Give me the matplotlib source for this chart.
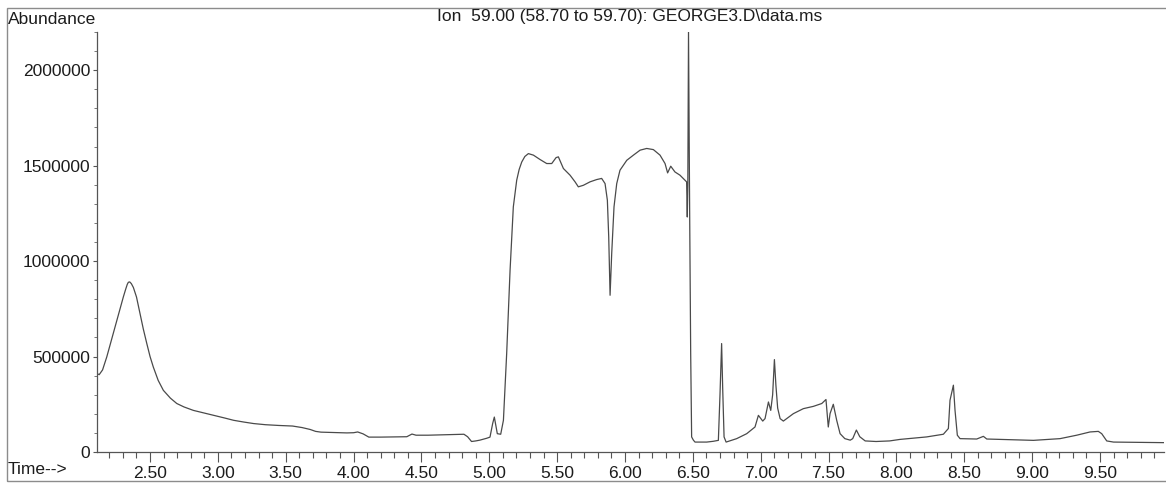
import matplotlib
matplotlib.use("Agg")
import matplotlib.pyplot as plt
from matplotlib.patches import Rectangle
from matplotlib.ticker import MultipleLocator

plt.rcParams['font.family'] = ['Liberation Sans', 'DejaVu Sans']

# Extracted ion chromatogram, m/z 59
retention_time = [
    2.109, 2.125, 2.150, 2.181, 2.242, 2.303, 2.320, 2.332, 2.340, 2.350,
    2.362, 2.377, 2.400, 2.426, 2.450, 2.476, 2.500, 2.524, 2.560, 2.598,
    2.650, 2.697, 2.750, 2.819, 2.900, 2.967, 3.050, 3.116, 3.190, 3.263,
    3.350, 3.450, 3.550, 3.620, 3.680, 3.720, 3.760, 3.850, 3.950, 4.000,
    4.030, 4.070, 4.112, 4.200, 4.300, 4.392, 4.430, 4.460, 4.550, 4.650,
    4.750, 4.813, 4.840, 4.869, 4.900, 4.930, 4.981, 5.005, 5.025, 5.037,
    5.048, 5.059, 5.084, 5.104, 5.128, 5.153, 5.177, 5.202, 5.220, 5.239,
    5.262, 5.288, 5.325, 5.374, 5.423, 5.460, 5.492, 5.509, 5.546, 5.595,
    5.632, 5.656, 5.693, 5.742, 5.791, 5.828, 5.853, 5.870, 5.880, 5.890,
    5.902, 5.919, 5.939, 5.963, 6.013, 6.062, 6.111, 6.160, 6.209, 6.258,
    6.295, 6.314, 6.337, 6.368, 6.405, 6.442, 6.454, 6.459, 6.463, 6.468,
    6.476, 6.484, 6.491, 6.504, 6.516, 6.602, 6.650, 6.688, 6.700, 6.712,
    6.720, 6.730, 6.745, 6.823, 6.897, 6.958, 6.983, 7.015, 7.032, 7.057,
    7.074, 7.088, 7.101, 7.112, 7.125, 7.143, 7.167, 7.241, 7.314, 7.388,
    7.450, 7.481, 7.498, 7.511, 7.535, 7.560, 7.585, 7.620, 7.660, 7.678,
    7.705, 7.730, 7.770, 7.850, 7.950, 8.027, 8.120, 8.223, 8.346, 8.383,
    8.395, 8.420, 8.432, 8.449, 8.469, 8.592, 8.641, 8.666, 8.813, 9.010,
    9.206, 9.329, 9.427, 9.488, 9.513, 9.550, 9.600, 9.970,
]

abundance = [
    411000, 405000, 430000, 498000, 655000, 812000, 852000, 878000, 889000, 891000,
    882000, 862000, 812000, 725000, 645000, 568000, 500000, 445000, 375000, 323000,
    282000, 254000, 236000, 218000, 204000, 192000, 178000, 166000, 157000, 149000,
    143000, 139000, 136000, 128000, 118000, 108000, 104000, 102000, 100000, 101000,
    105000, 95000, 78000, 78000, 79000, 80000, 94000, 88000, 88000, 90000,
    92000, 93000, 80000, 55000, 58000, 62000, 72000, 78000, 150000, 183000,
    140000, 96000, 93000, 166000, 516000, 952000, 1284000, 1424000, 1480000, 1519000,
    1548000, 1563000, 1555000, 1532000, 1511000, 1511000, 1542000, 1546000, 1485000, 1450000,
    1415000, 1389000, 1397000, 1415000, 1427000, 1433000, 1406000, 1319000, 1127000, 821000,
    1040000, 1284000, 1406000, 1476000, 1528000, 1555000, 1581000, 1590000, 1584000, 1555000,
    1511000, 1462000, 1497000, 1467000, 1450000, 1424000, 1415000, 1231000, 1410000, 2200000,
    1300000, 517000, 79000, 62000, 52000, 52000, 56000, 61000, 300000, 568000,
    330000, 79000, 52000, 70000, 96000, 131000, 192000, 162000, 175000, 262000,
    218000, 300000, 484000, 350000, 230000, 175000, 162000, 201000, 227000, 239000,
    254000, 275000, 131000, 201000, 250000, 166000, 96000, 70000, 62000, 70000,
    115000, 80000, 58000, 55000, 58000, 66000, 72000, 79000, 93000, 123000,
    271000, 350000, 218000, 88000, 70000, 68000, 82000, 68000, 65000, 61000,
    70000, 88000, 105000, 108000, 96000, 58000, 52000, 49000,
]

x_ticks = [2.5, 3.0, 3.5, 4.0, 4.5, 5.0, 5.5, 6.0, 6.5, 7.0, 7.5, 8.0, 8.5, 9.0, 9.5]
x_tick_labels = ["2.50", "3.00", "3.50", "4.00", "4.50", "5.00", "5.50", "6.00",
                 "6.50", "7.00", "7.50", "8.00", "8.50", "9.00", "9.50"]
y_ticks = [0, 500000, 1000000, 1500000, 2000000]
y_tick_labels = ["0", "500000", "1000000", "1500000", "2000000"]

title_text = "Ion  59.00 (58.70 to 59.70): GEORGE3.D\\data.ms"

W, H = 1166, 483
fig = plt.figure(figsize=(W / 100, H / 100), dpi=100)
fig.patch.set_facecolor("white")

ax_left, ax_right = 97, 1164
ax_bottom, ax_top = 452, 32
ax = fig.add_axes([ax_left / W, 1 - ax_bottom / H,
                   (ax_right - ax_left) / W, (ax_bottom - ax_top) / H])

line_color = "#4a4a4a"
text_color = "#1c1c1c"

ax.plot(retention_time, abundance, color=line_color, lw=0.9, solid_joinstyle="round")

ax.set_xlim(2.109, 9.972)
ax.set_ylim(0, 2200000)

for side in ("top", "right"):
    ax.spines[side].set_visible(False)
for side in ("left", "bottom"):
    ax.spines[side].set_color("#555555")
    ax.spines[side].set_linewidth(0.9)

ax.set_xticks(x_ticks)
ax.set_xticklabels(x_tick_labels)
ax.set_yticks(y_ticks)
ax.set_yticklabels(y_tick_labels)
ax.xaxis.set_minor_locator(MultipleLocator(0.1))
ax.yaxis.set_minor_locator(MultipleLocator(100000))

ax.tick_params(axis="x", which="major", direction="out", length=7, width=0.8,
               color="#555555", labelsize=12.5, labelcolor=text_color, pad=3)
ax.tick_params(axis="x", which="minor", direction="out", length=4, width=0.8,
               color="#555555")
ax.tick_params(axis="y", which="major", direction="out", length=3, width=0.8,
               color="#555555", labelsize=12.5, labelcolor=text_color, pad=2)
ax.tick_params(axis="y", which="minor", direction="out", length=2, width=0.7,
               color="#777777")

fig.text(630 / W, 1 - 17 / H, title_text, ha="center", va="center",
         fontsize=12.5, color=text_color)
fig.text(8 / W, 1 - 19 / H, "Abundance", ha="left", va="center",
         fontsize=12.5, color=text_color)
fig.text(8 / W, 1 - 470 / H, "Time-->", ha="left", va="center",
         fontsize=12.5, color=text_color)

# page frame surrounding the plot
fig.add_artist(Rectangle((7 / W, 1 - 481 / H), (W + 20) / W, (481 - 8) / H,
                         transform=fig.transFigure, fill=False,
                         edgecolor="#8c8c8c", linewidth=1.0))

fig.savefig("out.png", dpi=100, facecolor="white")
